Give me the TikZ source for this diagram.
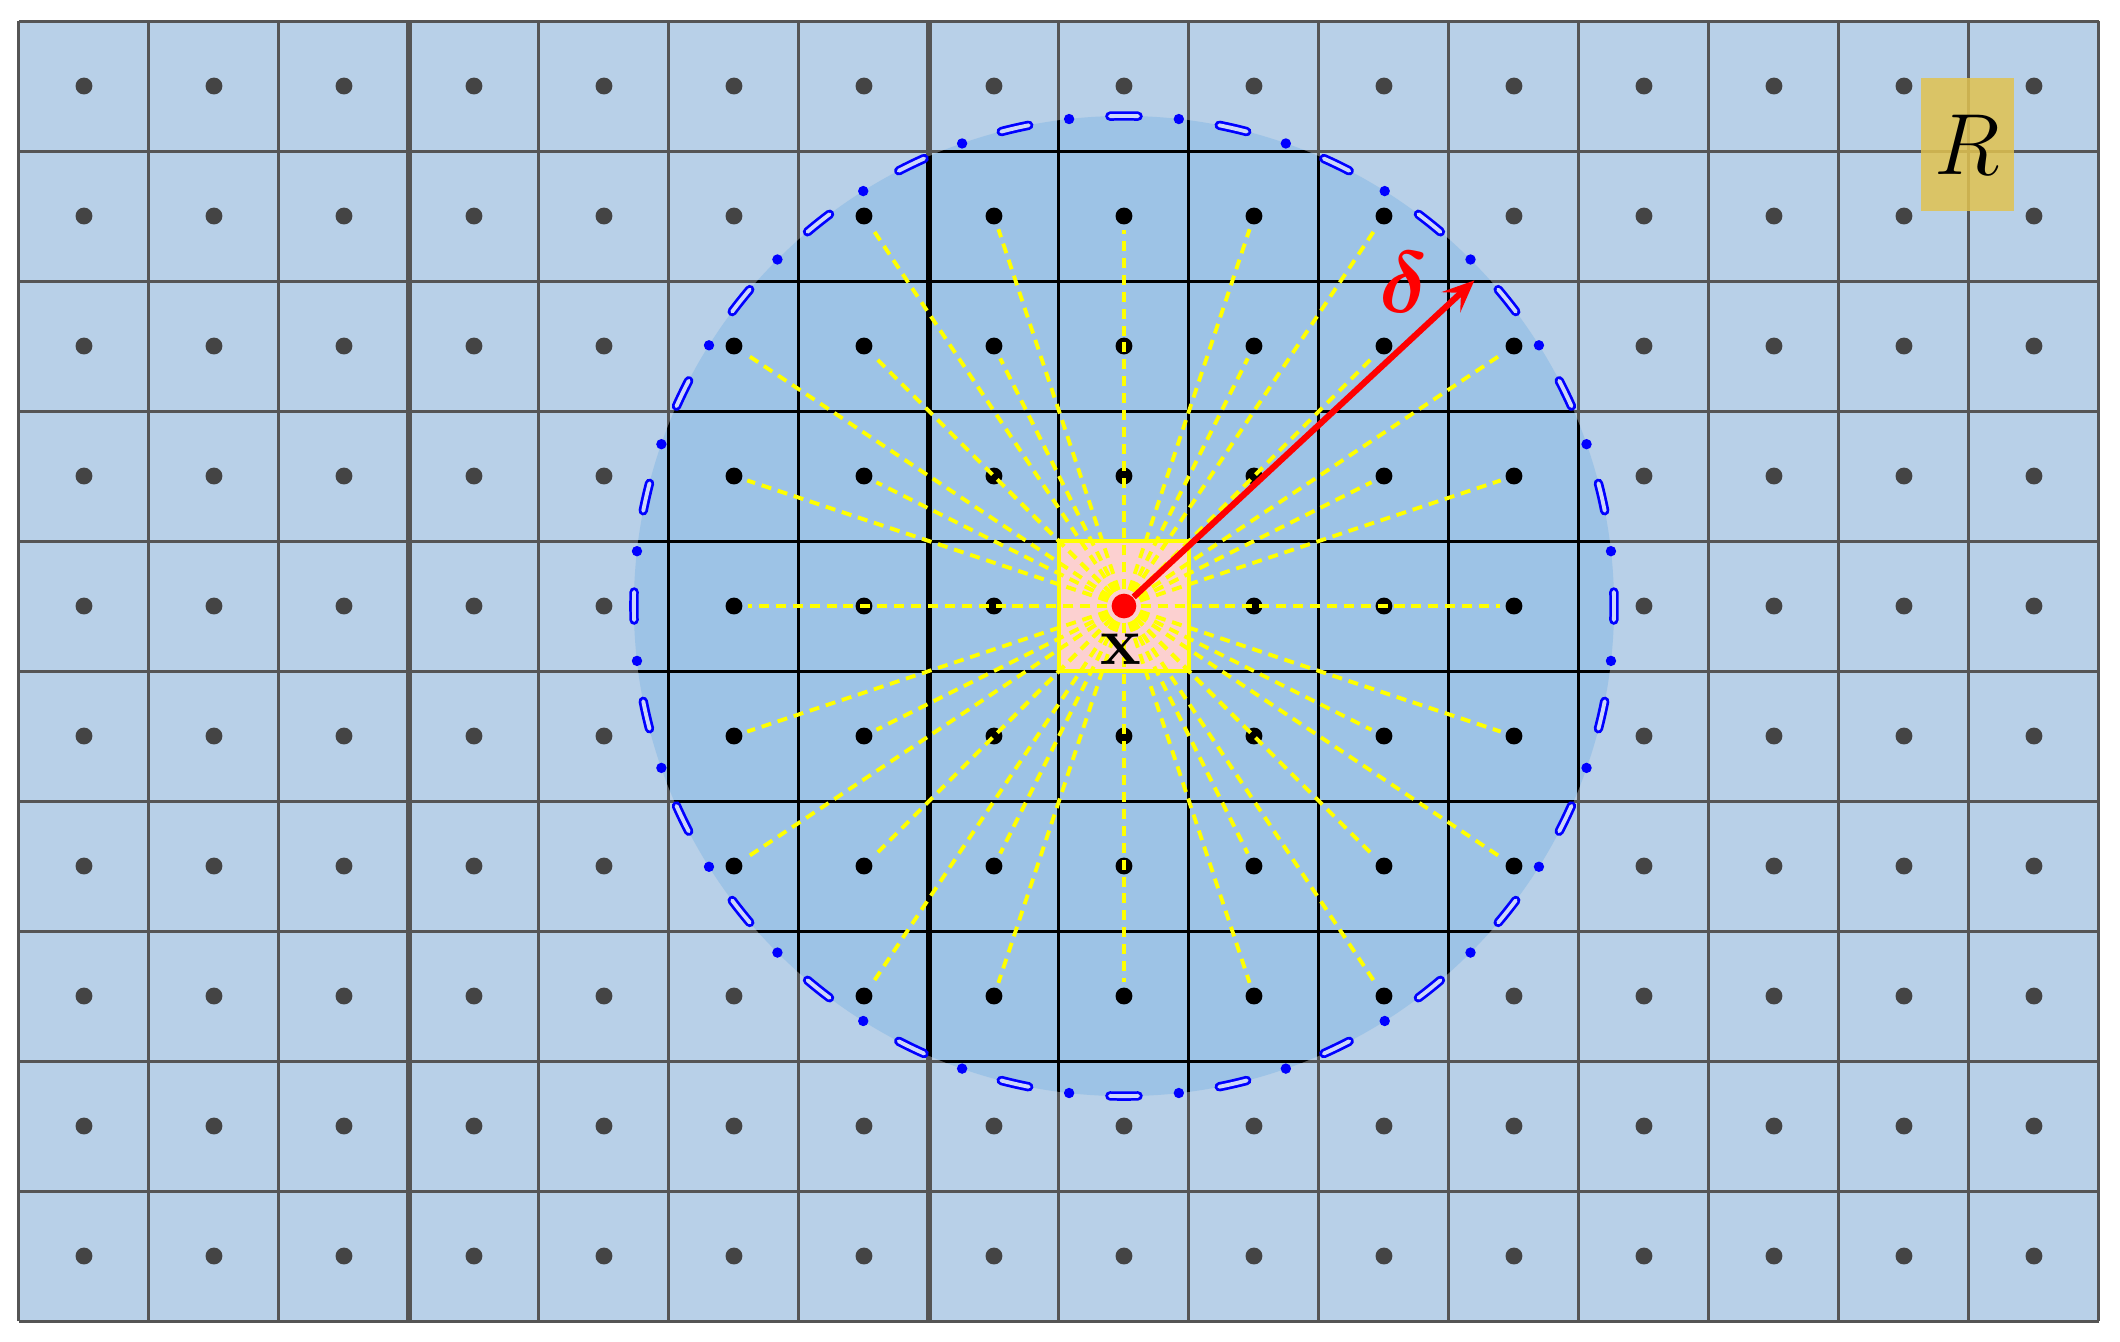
\RequirePackage{fix-cm}
\documentclass[tikz,border=0pt]{standalone}
\usepackage{bm}
\usetikzlibrary{arrows.meta,calc}
\definecolor{bgblue}{RGB}{184,208,232}
\definecolor{inblue}{RGB}{157,195,230}
\definecolor{gridgray}{RGB}{85,85,85}
\definecolor{dotgray}{RGB}{68,68,68}
\definecolor{pinkc}{RGB}{252,208,208}
\definecolor{rayyellow}{RGB}{255,255,0}
\definecolor{goldc}{RGB}{224,194,80}
\definecolor{cblue}{RGB}{0,0,255}
\definecolor{cinner}{RGB}{205,215,250}
\tikzset{
  gridout/.style={draw=gridgray, line width=0.65pt},
  gridin/.style={draw=black, line width=0.65pt},
  thickline/.style={line width=1.25pt},
  outdot/.style={circle, fill=dotgray, inner sep=0pt, minimum size=0.13cm},
  indot/.style={circle, fill=black, inner sep=0pt, minimum size=0.13cm},
  ray/.style={draw=rayyellow, line width=0.85pt, dash pattern=on 2.2pt off 1.5pt, shorten >=1pt},
  cdash/.style={draw=cblue, line width=0.6pt, double=cinner, double distance=0.85pt, line cap=round},
  centercell/.style={rectangle, fill=pinkc, draw=rayyellow, line width=0.7pt, minimum size=1cm, inner sep=0pt},
  reddot/.style={circle, fill=red, inner sep=0pt, minimum size=0.19cm},
  rbox/.style={rectangle, fill=goldc, fill opacity=0.85, text opacity=1, minimum width=0.72cm, minimum height=1.02cm, inner sep=0pt}
}
\begin{document}
\begin{tikzpicture}
\useasboundingbox (-0.146,-0.154) rectangle (16.162,10.162);
\fill[white] (-0.146,-0.154) rectangle (16.162,10.162);
\coordinate (C) at (8.5,5.5);
% background
\fill[bgblue] (0,0) rectangle (16,10);
\fill[inblue] (C) circle (3.77);
% grid outside
\draw[gridout] (0,0) grid (16,10);
\draw[gridout, thickline] (3,0) -- (3,10);
\draw[gridout, thickline] (7,0) -- (7,10);
% grid inside circle
\begin{scope}
  \clip (C) circle (3.77);
  \draw[gridin] (0,0) grid (16,10);
  \draw[gridin, thickline] (7,0) -- (7,10);
\end{scope}
% centre cell
\node[centercell] (P) at (C) {};
% dots
\foreach \i in {0,...,15}{
  \foreach \j in {0,...,9}{
    \pgfmathtruncatemacro\dd{(\i-8)*(\i-8)+(\j-4)*(\j-4)}
    \ifnum\dd=0\relax\else
      \ifnum\dd<14\relax
        \node[indot] (d-\i-\j) at (\i+0.5,9.5-\j) {};
      \else
        \node[outdot] (d-\i-\j) at (\i+0.5,9.5-\j) {};
      \fi
    \fi
  }
}
% rays
\foreach \i in {0,...,15}{
  \foreach \j in {0,...,9}{
    \pgfmathtruncatemacro\dd{(\i-8)*(\i-8)+(\j-4)*(\j-4)}
    \ifnum\dd=0\relax\else
      \ifnum\dd<14\relax
        \draw[ray] (C) -- (d-\i-\j);
      \fi
    \fi
  }
}
% dash-dot circle
\foreach \k in {0,...,27}{
  \pgfmathsetmacro\a{90+\k*360/28}
  \pgfmathsetmacro\as{\a-1.65}
  \pgfmathsetmacro\ae{\a+1.65}
  \pgfmathsetmacro\ad{\a+6.4286}
  \draw[cdash] ([shift={(\as:3.77)}]C) arc[start angle=\as, end angle=\ae, radius=3.77];
  \fill[cblue] ([shift={(\ad:3.77)}]C) circle (0.04);
}
% centre point and radius arrow
\node[reddot] (X) at (C) {};
\coordinate (T) at ($(C)+(42.9:3.68)$);
\draw[red, line width=1.35pt, -{Stealth[length=7pt,width=6pt,inset=3pt]}] (X) -- (T);
\node[text=red, inner sep=0pt] (dl) at (10.65,7.99) {\fontsize{19}{22}\selectfont$\bm{\delta}$};
\node[inner sep=0pt] (xl) at (8.477,5.17) {\fontsize{15}{18}\selectfont$\mathbf{x}$};
% R box
\node[rbox] (R) at (14.99,9.05) {\fontsize{19}{22}\selectfont$R$};
\end{tikzpicture}
\end{document}
